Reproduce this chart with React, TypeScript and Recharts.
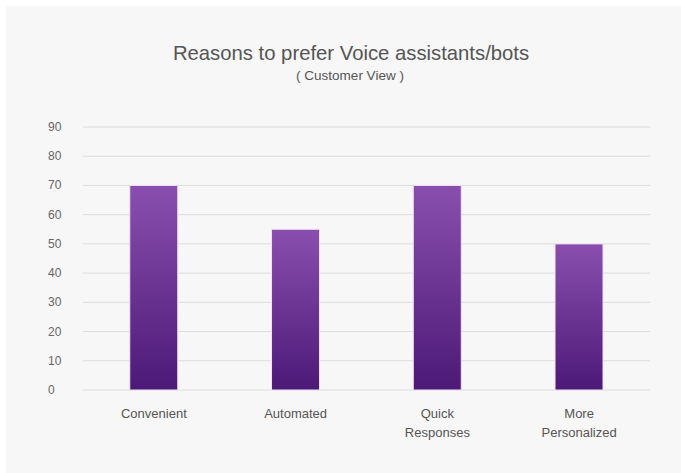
import { BarChart, Bar, XAxis, YAxis, CartesianGrid } from 'recharts';

const categories = ['Convenient', 'Automated', 'Quick\nResponses', 'More\nPersonalized'];
const shares = [70, 55, 70, 50];
const yTicks = [0, 10, 20, 30, 40, 50, 60, 70, 80, 90];

const data = categories.map((name, i) => ({ name, value: shares[i] }));

const YTick = (props: any) => {
  const { x, y, payload } = props;
  return (
    <text x={x - 27} y={y} dy={4} textAnchor="start" fontSize={12} fill="#666">
      {payload.value}
    </text>
  );
};

const XTick = (props: any) => {
  const { x, y, payload } = props;
  const lines = String(payload.value).split('\n');
  return (
    <text x={x} y={y} textAnchor="middle" fontSize={13} fill="#555">
      {lines.map((l, i) => (
        <tspan key={i} x={x} dy={i === 0 ? 20 : 19}>
          {l}
        </tspan>
      ))}
    </text>
  );
};

const App = () => {
  return (
    <div
      style={{
        position: 'absolute',
        left: 0,
        top: 0,
        width: 681,
        height: 473,
        background: '#fff',
        fontFamily: '"Liberation Sans", Arial, sans-serif',
      }}
    >
      <div
        style={{
          position: 'absolute',
          left: 6,
          top: 6,
          width: 675,
          height: 467,
          background: '#f7f7f7',
        }}
      />
      <div
        style={{
          position: 'absolute',
          left: 0,
          width: 702,
          top: 42,
          textAlign: 'center',
          fontSize: 20.3,
          color: '#555',
        }}
      >
        Reasons to prefer Voice assistants/bots
      </div>
      <div
        style={{
          position: 'absolute',
          left: 0,
          width: 700,
          top: 68,
          textAlign: 'center',
          fontSize: 13.5,
          color: '#555',
        }}
      >
        ( Customer View )
      </div>
      <div style={{ position: 'absolute', left: 0, top: 0 }}>
        <BarChart
          width={681}
          height={473}
          data={data}
          margin={{ top: 127, right: 31, bottom: 43, left: 38 }}
          barCategoryGap="33%"
          style={{ fontFamily: '"Liberation Sans", Arial, sans-serif' }}
        >
          <defs>
            <linearGradient id="barFill" x1="0" y1="0" x2="0" y2="1">
              <stop offset="0%" stopColor="#8a4fae" />
              <stop offset="100%" stopColor="#4c1977" />
            </linearGradient>
          </defs>
          <CartesianGrid vertical={false} stroke="#dcdcdc" />
          <XAxis
            dataKey="name"
            axisLine={false}
            tickLine={false}
            height={40}
            interval={0}
            tick={<XTick />}
          />
          <YAxis
            domain={[0, 90]}
            ticks={yTicks}
            axisLine={false}
            tickLine={false}
            width={45}
            tick={<YTick />}
          />
          <Bar
            dataKey="value"
            fill="url(#barFill)"
            stroke="#f3e2f6"
            strokeWidth={1}
            isAnimationActive={false}
          />
        </BarChart>
      </div>
    </div>
  );
};

export default App;
